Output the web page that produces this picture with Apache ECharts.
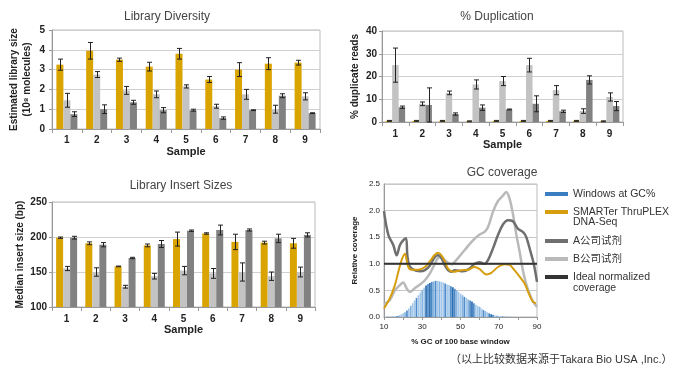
<!DOCTYPE html>
<html><head><meta charset="utf-8">
<script src="https://cdn.jsdelivr.net/npm/echarts@6/dist/echarts.min.js"></script>
<style>html,body{margin:0;padding:0;background:#fff}#c{width:680px;height:378px}</style>
</head><body><div id="c"></div>
<script>
// ---------- DATA ----------
const samples = ['1','2','3','4','5','6','7','8','9'];
// Library Diversity (10^8 molecules)
const divGold = [3.25, 3.95, 3.5, 3.15, 3.8, 2.5, 3.0, 3.3, 3.35];
const divGoldErr = [0.28, 0.42, 0.08, 0.22, 0.27, 0.15, 0.35, 0.3, 0.12];
const divLight = [1.45, 2.75, 1.95, 1.75, 2.15, 1.15, 1.75, 1.0, 1.65];
const divLightErr = [0.35, 0.15, 0.2, 0.17, 0.08, 0.1, 0.25, 0.2, 0.18];
const divDark = [0.75, 1.0, 1.35, 0.95, 0.95, 0.55, 0.95, 1.68, 0.8];
const divDarkErr = [0.12, 0.22, 0.1, 0.13, 0.05, 0.06, 0.02, 0.1, 0.02];
// % Duplication
const dupGold = [0.5, 0.5, 0.5, 0.3, 0.5, 0.5, 0.5, 0.5, 0.3];
const dupGoldErr = [0.2, 0.2, 0.2, 0.2, 0.2, 0.2, 0.2, 0.2, 0.2];
const dupLight = [25, 8, 12.8, 16.5, 18, 25, 14, 4.8, 11];
const dupLightErr = [7.5, 0.8, 0.8, 2, 2, 3, 2, 1, 1.8];
const dupDark = [6.5, 7.5, 3.5, 6.3, 5.5, 8, 4.7, 18.5, 7];
const dupDarkErr = [0.5, 7.5, 0.5, 1.2, 0.2, 3.5, 0.5, 1.8, 2];
// Library Insert Sizes (bp)
const insGold = [199, 191, 158, 188, 197, 205, 193, 192, 191];
const insGoldErr = [1, 2, 0.5, 2, 10, 1, 11, 2, 7];
const insLight = [155, 150, 129, 144, 152, 148, 150, 144, 150];
const insLightErr = [3, 6, 2, 4, 6, 7, 13, 6, 7];
const insDark = [199, 189, 170, 190, 209, 210, 210, 198, 203];
const insDarkErr = [2, 3, 1, 5, 1, 7, 1.5, 6, 3];
// GC coverage
const gcSmarter = [[10,0.16],[13,0.35],[15.7,0.6],[17.5,0.85],[19.2,1.07],[20.9,1.19],[21.5,1.13],[22.7,0.94],[24.4,0.89],[27.9,0.89],[31.4,0.94],[34,1.05],[36.6,1.17],[38.3,1.21],[40,1.16],[41.8,1.05],[43.5,0.91],[46.1,0.85],[50.5,0.88],[54,0.89],[57.4,0.94],[60,0.9],[63.5,0.8],[66.1,0.83],[69.6,0.94],[73,0.99],[75.6,0.98],[78.2,0.88],[80.9,0.76],[83.5,0.63],[86.1,0.41],[87.8,0.29],[89.5,0.26]];
const gcA = [[10,1.99],[12.3,1.54],[14.9,1.35],[16.6,1.16],[18.3,1.35],[20,1.44],[21.5,1.48],[22.2,1.16],[23.2,0.97],[25.3,0.89],[28.8,0.86],[31.4,0.88],[34,0.97],[36.6,1.13],[38.3,1.16],[40,1.11],[41.8,0.97],[43.5,0.88],[45.2,0.85],[47,0.88],[51.3,0.86],[54.8,0.91],[57.4,1.0],[60,1.03],[62.6,1.0],[64.4,1.07],[67,1.29],[69.6,1.54],[72.2,1.74],[74.8,1.82],[77.4,1.8],[80,1.66],[82.6,1.6],[84.3,1.51],[86.6,1.23],[88.3,1.0],[90,0.66]];
const gcB = [[10,0.24],[13.1,0.32],[15.7,0.5],[18.3,0.6],[20,0.65],[21.8,0.54],[23.5,0.47],[26.1,0.54],[28.8,0.61],[31.4,0.69],[34,0.82],[36.6,1.0],[38.3,1.11],[40,1.13],[41.8,1.07],[43.5,1.02],[45.2,0.99],[47.8,1.07],[52.2,1.26],[56.5,1.44],[60,1.55],[62.6,1.6],[64.4,1.69],[67,1.98],[69.6,2.18],[72.2,2.28],[73.9,2.35],[75.6,2.23],[77.4,1.94],[79.1,1.57],[80.9,1.23],[82.6,0.88],[84.3,0.63],[86.1,0.44],[87.8,0.3],[90,0.19]];
const gcIdeal = [[10,1.0],[90,1.0]];
const gcWinX = [12,13,14,15,16,17,18,19,20,21,22,23,24,25,26,27,28,29,30,31,32,33,34,35,36,37,38,39,40,41,42,43,44,45,46,47,48,49,50,51,52,53,54,55,56,57,58,59,60,61,62,63,64,65,66,67,68,69,70,71,72,73,74,75,76];
const gcWinY = [0.005,0.005,0.01,0.01,0.015,0.02,0.03,0.05,0.07,0.09,0.12,0.16,0.21,0.26,0.31,0.36,0.41,0.46,0.51,0.55,0.59,0.62,0.64,0.66,0.67,0.68,0.68,0.67,0.66,0.65,0.63,0.61,0.6,0.58,0.56,0.53,0.5,0.47,0.44,0.41,0.38,0.36,0.33,0.31,0.29,0.26,0.23,0.21,0.19,0.16,0.13,0.11,0.09,0.07,0.05,0.04,0.03,0.025,0.02,0.015,0.01,0.01,0.008,0.005,0.005];
const legendNames = ['Windows at GC%', 'SMARTer ThruPLEX DNA-Seq', 'A公司试剂', 'B公司试剂', 'Ideal normalized coverage'];
const footnote = '（以上比较数据来源于Takara Bio USA ,Inc.）';

// ---------- STYLE ----------
const FONT = "'Liberation Sans', Arial, 'Noto Sans CJK SC', sans-serif";
const GOLD = '#D9A300', LIGHT = '#C3C3C3', DARK = '#818181';
const chart = echarts.init(document.getElementById('c'), null, {renderer:'canvas'});

function catAxis(grid, margin){
  return {type:'category', gridIndex:grid, data:samples, name:'Sample', nameLocation:'middle', nameGap:17,
    nameTextStyle:{fontWeight:'bold', fontSize:11, color:'#222'},
    axisLine:{lineStyle:{color:'#999'}}, axisTick:{show:true, length:4, lineStyle:{color:'#999'}},
    axisLabel:{fontSize:10, fontWeight:'bold', color:'#222', margin:margin}};
}
function valAxis(grid, min, max, interval, name, nameGap, margin){
  return {type:'value', gridIndex:grid, min:min, max:max, interval:interval, name:name, nameLocation:'middle',
    nameGap:nameGap, nameRotate:90, nameTextStyle:{fontWeight:'bold', fontSize:10, color:'#222', lineHeight:13},
    axisLine:{show:true, lineStyle:{color:'#999'}}, axisTick:{show:true, length:3, lineStyle:{color:'#999'}},
    splitLine:{lineStyle:{color:'#d0d0d0'}},
    axisLabel:{fontSize:10, fontWeight:'bold', color:'#222', margin:margin}};
}
function bars(grid, g, l, d, bw){
  const mk = (name, data, color) => ({type:'bar', name:name, xAxisIndex:grid, yAxisIndex:grid, data:data,
    barWidth:bw, barGap:'0%', itemStyle:{color:color}, silent:true});
  return [mk('g'+grid, g, GOLD), mk('l'+grid, l, LIGHT), mk('d'+grid, d, DARK)];
}
function errs(grid, vals, err, off, bw){
  return {type:'custom', xAxisIndex:grid, yAxisIndex:grid, silent:true, z:5,
    data: vals.map((v,i)=>[i, v-err[i], v+err[i]]), encode:{x:0, y:[1,2]},
    renderItem:function(params, api){
      const lo = api.coord([api.value(0), api.value(1)]);
      const hi = api.coord([api.value(0), api.value(2)]);
      const cx = Math.round(lo[0] + off*bw) + 0.5, cap = 2.5;
      const st = {stroke:'#222', lineWidth:1};
      return {type:'group', children:[
        {type:'line', shape:{x1:cx, y1:lo[1], x2:cx, y2:hi[1]}, style:st},
        {type:'line', shape:{x1:cx-cap, y1:hi[1], x2:cx+cap, y2:hi[1]}, style:st},
        {type:'line', shape:{x1:cx-cap, y1:lo[1], x2:cx+cap, y2:lo[1]}, style:st}]};
    }};
}

const series = [];
const BW1 = 7, BW2 = 6.5, BW3 = 7;
series.push(...bars(0, divGold, divLight, divDark, BW1));
series.push(errs(0, divGold, divGoldErr, -1, BW1), errs(0, divLight, divLightErr, 0, BW1), errs(0, divDark, divDarkErr, 1, BW1));
series.push(...bars(1, dupGold, dupLight, dupDark, BW2));
series.push(errs(1, dupGold, dupGoldErr, -1, BW2), errs(1, dupLight, dupLightErr, 0, BW2), errs(1, dupDark, dupDarkErr, 1, BW2));
series.push(...bars(2, insGold, insLight, insDark, BW3));
series.push(errs(2, insGold, insGoldErr, -1, BW3), errs(2, insLight, insLightErr, 0, BW3), errs(2, insDark, insDarkErr, 1, BW3));

// GC coverage
const darkBands = [[32,35],[45,47],[55,56],[65,66]];
series.push({type:'bar', name:legendNames[0], xAxisIndex:3, yAxisIndex:3, barWidth:1.7, silent:true,
  data: gcWinX.map((x,i)=>[x, gcWinY[i]]),
  itemStyle:{color:function(p){
    const x = p.value[0];
    for (const b of darkBands){ if (x>=b[0] && x<=b[1]) return (x%2===0)?'#2A6DB0':'#4A87C6'; }
    if (x%5===2) return '#4F8CCB';
    return (x%3===0)?'#86B4E0':'#A4C8EA';
  }}});
const lineS = (name, data, color, w, z) => ({type:'line', name:name, xAxisIndex:3, yAxisIndex:3, data:data,
  showSymbol:false, symbol:'none', smooth:0.35, lineStyle:{color:color, width:w}, itemStyle:{color:color}, z:z, silent:true});
series.push(lineS(legendNames[3], gcB, '#B9B9B9', 2.5, 3));
series.push(lineS(legendNames[2], gcA, '#6F6F6F', 2.5, 4));
series.push(lineS(legendNames[1], gcSmarter, '#D69E0E', 2, 5));
series.push({...lineS(legendNames[4], gcIdeal, '#333333', 2, 6), smooth:false});

function leg(name, centerY, label, color){
  return {show:true, data:[{name:name, itemStyle:{color:color}}], left:545, top:centerY-6, orient:'vertical',
    padding:0, icon:'rect', itemWidth:23, itemHeight:4, selectedMode:false,
    formatter:function(){return label;},
    textStyle:{fontFamily:FONT, fontSize:10.5, color:'#333', lineHeight:12}};
}
const tStyle = {fontSize:12, fontWeight:'normal', color:'#444', fontFamily:FONT};
const subStyle = {fontSize:10.5, fontWeight:'normal', color:'#333', fontFamily:FONT};

const option = {
  animation:false,
  textStyle:{fontFamily:FONT},
  title:[
    {text:'Library Diversity', left:167, top:11, padding:0, textAlign:'center', textStyle:tStyle},
    {text:'% Duplication', left:497, top:11, padding:0, textAlign:'center', textStyle:tStyle},
    {text:'Library Insert Sizes', left:181, top:180, padding:0, textAlign:'center', textStyle:tStyle},
    {text:'GC coverage', left:502, top:167, padding:0, textAlign:'center', textStyle:tStyle},
    {text:'DNA-Seq', left:573, top:217, padding:0, textStyle:subStyle},
    {text:'coverage', left:573, top:283, padding:0, textStyle:subStyle},
    {text:footnote, left:450, top:354, padding:0, textStyle:{fontSize:11, fontWeight:'normal', color:'#333', fontFamily:FONT}}
  ],
  legend:[
    leg(legendNames[0], 194, 'Windows at GC%', '#3A7DC0'),
    leg(legendNames[1], 212, 'SMARTer ThruPLEX', '#D69E0E'),
    leg(legendNames[2], 241, 'A公司试剂', '#6F6F6F'),
    leg(legendNames[3], 259, 'B公司试剂', '#B9B9B9'),
    leg(legendNames[4], 277, 'Ideal normalized', '#333333')
  ],
  grid:[
    {left:52, top:30, width:268, height:99, show:true, borderColor:'#bbb', borderWidth:1},
    {left:382, top:31, width:241, height:91, show:true, borderColor:'#bbb', borderWidth:1},
    {left:52, top:202, width:263, height:105, show:true, borderColor:'#bbb', borderWidth:1},
    {left:384, top:184, width:153, height:133, show:true, borderColor:'#bbb', borderWidth:1}
  ],
  xAxis:[
    catAxis(0, 6), catAxis(1, 7), catAxis(2, 7),
    {type:'value', gridIndex:3, min:10, max:90, interval:10, name:'% GC of 100 base window', nameLocation:'middle', nameGap:21,
      nameTextStyle:{fontWeight:'bold', fontSize:8, color:'#222'},
      axisLine:{lineStyle:{color:'#999'}}, axisTick:{show:true, length:3, lineStyle:{color:'#999'}}, splitLine:{show:false},
      axisLabel:{fontSize:8, color:'#222', margin:6, formatter:function(v){return ((v-10)%20===0)?String(v):'';}}}
  ],
  yAxis:[
    valAxis(0, 0, 5, 1, 'Estimated library size\n(10⁸ molecules)', 18, 7),
    valAxis(1, 0, 40, 10, '% duplicate reads', 20, 5),
    valAxis(2, 100, 250, 50, 'Median insert size (bp)', 24, 5),
    {type:'value', gridIndex:3, min:0, max:2.5, interval:0.5, name:'Relative coverage', nameLocation:'middle', nameGap:25, nameRotate:90,
      nameTextStyle:{fontWeight:'bold', fontSize:8, color:'#222'},
      axisLine:{show:true, lineStyle:{color:'#999'}}, axisTick:{show:false}, splitLine:{lineStyle:{color:'#c8c8c8'}},
      axisLabel:{fontSize:8, color:'#222', margin:4, formatter:function(v){return v.toFixed(1);}}}
  ],
  series:series
};
chart.setOption(option);
</script></body></html>
